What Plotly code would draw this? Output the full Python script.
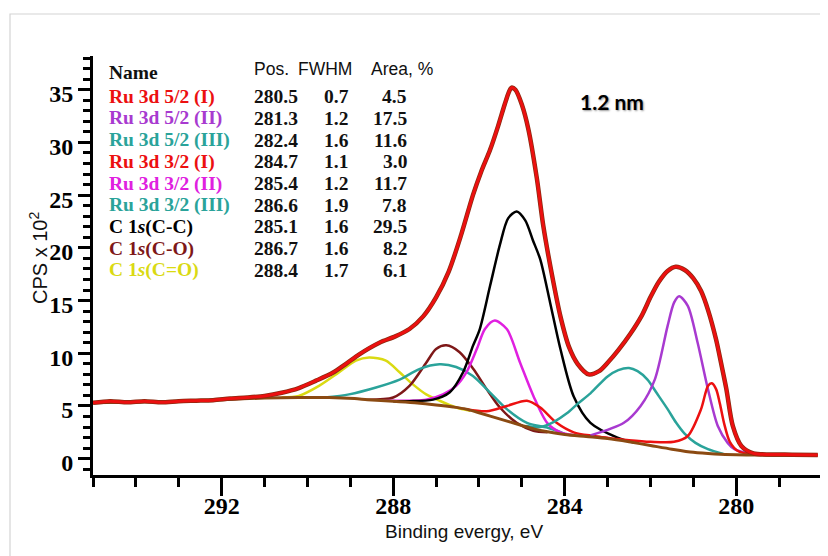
import plotly.graph_objects as go

# ---------------- data ----------------
envelope_E = [295.0, 294.6, 294.2, 293.8, 293.4, 293.0, 292.6, 292.2, 291.8, 291.4, 291.0, 290.6,
              290.2, 289.8, 289.41, 289.1, 288.79, 288.32, 287.95, 287.62, 287.3, 287.0, 286.7,
              286.41, 286.14, 285.95, 285.74, 285.55, 285.4, 285.3, 285.24, 285.15, 285.0, 284.85,
              284.65, 284.5, 284.3, 284.1, 283.9, 283.7, 283.44, 283.2, 283.0, 282.75, 282.46,
              282.2, 281.99, 281.8, 281.6, 281.41, 281.2, 281.0, 280.82, 280.65, 280.47, 280.35,
              280.23, 280.08, 279.88, 279.6, 279.2, 278.7, 278.1]
envelope_cps = [5.3, 5.45, 5.35, 5.45, 5.35, 5.45, 5.5, 5.55, 5.7, 5.8, 5.95, 6.25,
                6.7, 7.4, 8.15, 9.0, 9.9, 11.0, 11.6, 12.3, 13.5, 15.3, 17.8,
                21.3, 25.0, 27.2, 29.3, 31.6, 33.6, 34.8, 35.2, 35.0, 33.6, 31.3,
                26.6, 22.1, 17.5, 13.5, 10.6, 9.0, 8.0, 8.3, 9.1, 10.3, 11.9,
                13.6, 15.4, 16.8, 17.8, 18.2, 17.9, 17.1, 15.9, 14.0, 11.3, 9.0,
                6.6, 3.1, 1.2, 0.5, 0.4, 0.38, 0.35]

background_E = [295.0, 293.0, 292.0, 291.0, 290.2, 289.5, 288.9, 288.6, 288.0, 287.5, 287.0,
                286.6, 286.3, 286.0, 285.5, 285.0, 284.7, 284.4, 284.0, 283.5, 283.0, 282.5,
                282.0, 281.5, 281.0, 280.5, 280.0, 279.0, 278.1]
background_cps = [5.3, 5.45, 5.6, 5.75, 5.8, 5.8, 5.7, 5.6, 5.45, 5.3, 5.1,
                  4.9, 4.7, 4.35, 3.75, 3.15, 2.8, 2.55, 2.3, 2.1, 1.9, 1.6,
                  1.25, 0.9, 0.6, 0.45, 0.37, 0.33, 0.32]

c_co2_E = [290.6, 290.2, 289.73, 289.26, 288.87, 288.56, 288.17, 287.85, 287.54, 287.23,
           286.92, 286.53, 286.2]
c_co2_cps = [5.8, 5.95, 6.9, 8.2, 9.3, 9.6, 9.3, 8.2, 7.05, 6.1, 5.5, 4.85, 4.55]

c_co_E = [288.63, 288.0, 287.62, 287.23, 287.0, 286.76, 286.45, 286.13, 285.82, 285.51,
          285.12, 284.73, 284.4]
c_co_cps = [5.6, 5.8, 6.9, 9.1, 10.4, 10.75, 10.1, 8.5, 6.6, 4.85, 3.4, 2.65, 2.5]

c_cc_E = [288.0, 287.62, 287.07, 286.68, 286.37, 286.14, 285.98, 285.74, 285.51, 285.32, 285.12,
          284.92, 284.74, 284.57, 284.34, 284.1, 283.79, 283.4, 282.77, 282.4]
c_cc_cps = [5.45, 5.45, 5.6, 6.3, 8.2, 10.7, 12.3, 16.4, 20.3, 22.8, 23.45,
            22.6, 20.7, 18.9, 14.8, 10.4, 5.9, 3.4, 2.0, 1.55]

ru32_3_E = [289.6, 289.03, 288.4, 287.85, 287.39, 286.92, 286.53, 286.14, 285.74, 285.35,
            284.88, 284.41, 284.0]
ru32_3_cps = [5.8, 6.1, 6.75, 7.5, 8.5, 8.95, 8.7, 7.85, 6.27, 4.7, 3.4, 2.95, 2.35]

ru32_2_E = [288.25, 287.23, 286.84, 286.53, 286.29, 286.05, 285.86, 285.63, 285.35, 285.04,
            284.73, 284.41, 284.1, 283.8]
ru32_2_cps = [5.5, 5.6, 6.1, 6.9, 8.2, 10.4, 12.3, 13.1, 12.3, 9.1, 5.95, 3.4, 2.5, 2.25]

ru32_1_E = [286.29, 285.82, 285.35, 284.88, 284.57, 284.19, 283.79, 283.32, 283.0]
ru32_1_cps = [4.7, 4.5, 5.0, 5.5, 4.85, 3.4, 2.5, 2.15, 1.95]

ru52_3_E = [284.9, 284.57, 284.25, 283.95, 283.7, 283.4, 283.0, 282.75, 282.5, 282.3, 282.07,
            281.85, 281.6, 281.4, 281.21, 280.95, 280.66, 280.3]
ru52_3_cps = [3.1, 3.0, 3.5, 4.3, 5.2, 6.2, 7.8, 8.4, 8.6, 8.3, 7.5,
              6.2, 4.7, 3.4, 2.4, 1.5, 0.9, 0.45]

ru52_2_E = [283.4, 282.62, 282.23, 281.9, 281.6, 281.45, 281.33, 281.13, 280.9, 280.66,
            280.43, 280.2, 280.04, 279.7]
ru52_2_cps = [2.2, 3.4, 5.0, 7.5, 12.6, 14.8, 15.4, 14.5, 11.0, 6.6, 3.1, 1.5, 0.9, 0.45]

ru52_1_E = [283.3, 282.5, 282.0, 281.45, 281.13, 280.82, 280.66, 280.57, 280.47, 280.38,
            280.28, 280.15, 279.95, 279.6, 278.1]
ru52_1_cps = [2.1, 1.75, 1.6, 1.6, 2.15, 4.7, 6.9, 7.15, 6.6, 5.2, 3.3, 1.6, 0.7, 0.4, 0.35]

# table
names = ["Ru 3d 5/2 (I)", "Ru 3d 5/2 (II)", "Ru 3d 5/2 (III)", "Ru 3d 3/2 (I)",
         "Ru 3d 3/2 (II)", "Ru 3d 3/2 (III)", "C 1<i>s</i>(C-C)", "C 1<i>s</i>(C-O)",
         "C 1<i>s</i>(C=O)"]
positions = ["280.5", "281.3", "282.4", "284.7", "285.4", "286.6", "285.1", "286.7", "288.4"]
fwhm = ["0.7", "1.2", "1.6", "1.1", "1.2", "1.9", "1.6", "1.6", "1.7"]
areas = ["4.5", "17.5", "11.6", "3.0", "11.7", "7.8", "29.5", "8.2", "6.1"]

x_ticks = [292, 288, 284, 280]
y_ticks = [0, 5, 10, 15, 20, 25, 30, 35]

# ---------------- style ----------------
RED = "#ec1010"
PURPLE = "#a83ad0"
TEAL = "#2aa39a"
MAGENTA = "#e020e0"
BLACK = "#000000"
MAROON = "#7e1818"
YELLOW = "#dada12"
BROWN = "#8b4a12"
row_colors = [RED, PURPLE, TEAL, RED, MAGENTA, TEAL, BLACK, MAROON, YELLOW]

W, H = 828, 556
OFF = 8  # page body margin offset
# plot area in page pixels: x 93..822, y 56..475
L = 93 - OFF
T = 56 - OFF
R = W - (822 - OFF)
B = H - (475 - OFF)
PW, PH = W - L - R, H - T - B


def px(x):
    return (x - OFF - L) / PW


def py(y):
    return (H - B - (y - OFF)) / PH


fig = go.Figure()


def add_curve(E, v, color, width):
    fig.add_trace(go.Scatter(x=E, y=v, mode="lines",
                             line=dict(color=color, width=width, shape="spline", smoothing=0.8),
                             hoverinfo="skip", showlegend=False))


add_curve(c_co2_E, c_co2_cps, YELLOW, 2.5)
add_curve(c_co_E, c_co_cps, MAROON, 2.5)
add_curve(ru32_3_E, ru32_3_cps, TEAL, 2.5)
add_curve(ru32_2_E, ru32_2_cps, MAGENTA, 2.5)
add_curve(ru32_1_E, ru32_1_cps, RED, 2.5)
add_curve(c_cc_E, c_cc_cps, BLACK, 2.5)
add_curve(ru52_3_E, ru52_3_cps, TEAL, 2.5)
add_curve(ru52_2_E, ru52_2_cps, PURPLE, 2.5)
add_curve(ru52_1_E, ru52_1_cps, RED, 2.5)
add_curve(background_E, background_cps, BROWN, 3)
add_curve(envelope_E, envelope_cps, "#8a2a10", 4.5)
add_curve(envelope_E, envelope_cps, RED, 3)

tickfont = dict(family="Liberation Serif", size=24, color="black", weight="bold")

fig.update_layout(
    width=W, height=H,
    margin=dict(l=L, r=R, t=T, b=B, pad=0),
    paper_bgcolor="white", plot_bgcolor="white",
    xaxis=dict(range=[295, 278], showgrid=False, zeroline=False, showline=True,
               linecolor="black", linewidth=3, ticks="outside", ticklen=18, tickwidth=3,
               tickcolor="black", tickvals=x_ticks, ticktext=[str(t) for t in x_ticks],
               tickfont=tickfont, ticklabelstandoff=-11,
               minor=dict(dtick=1, tick0=0, ticks="outside", ticklen=9, tickwidth=2.5,
                          tickcolor="black")),
    yaxis=dict(range=[-1.55, 38.2], showgrid=False, zeroline=False, showline=True,
               linecolor="black", linewidth=3, ticks="outside", ticklen=12, tickwidth=3,
               tickcolor="black", tickvals=y_ticks, ticktext=[str(t) for t in y_ticks],
               tickfont=tickfont, ticklabelshift=4,
               minor=dict(dtick=1, tick0=0, ticks="outside", ticklen=7, tickwidth=2.5,
                          tickcolor="black")),
)

# outer light frame
fig.add_shape(type="rect", xref="paper", yref="paper",
              x0=px(10), x1=px(850), y0=py(580), y1=py(14),
              line=dict(color="#d4d4d4", width=1.2), fillcolor="rgba(0,0,0,0)", layer="below")

ann = []
# axis titles
ann.append(dict(text="Binding evergy, eV", x=px(464), y=py(531), xref="paper", yref="paper",
                showarrow=False, xanchor="center", yanchor="middle",
                font=dict(family="Liberation Sans", size=19, color="#111")))
ann.append(dict(text="CPS x 10<sup>2</sup>", x=px(38), y=py(258), xref="paper", yref="paper",
                showarrow=False, xanchor="center", yanchor="middle", textangle=-90,
                font=dict(family="Liberation Sans", size=20, color="#111")))

# table header
serif_b = dict(family="Liberation Serif", size=19.5, weight="bold")
ann.append(dict(text="Name", x=px(107), y=py(73), xref="paper", yref="paper", showarrow=False,
                xanchor="left", yanchor="middle", font=dict(serif_b, color="#111")))
for label, xl in [("Pos.", 252), ("FWHM", 296), ("Area, %", 369)]:
    ann.append(dict(text=label, x=px(xl), y=py(69.5), xref="paper", yref="paper",
                    showarrow=False, xanchor="left", yanchor="middle",
                    font=dict(family="Liberation Sans", size=17.5, color="#111")))

for i in range(len(names)):
    yc = 96.7 + 21.7 * i
    ann.append(dict(text=names[i], x=px(107), y=py(yc), xref="paper", yref="paper",
                    showarrow=False, xanchor="left", yanchor="middle",
                    font=dict(serif_b, color=row_colors[i])))
    ann.append(dict(text=positions[i], x=px(275.5), y=py(yc), xref="paper", yref="paper",
                    showarrow=False, xanchor="center", yanchor="middle",
                    font=dict(serif_b, color="#111")))
    ann.append(dict(text=fwhm[i], x=px(336), y=py(yc), xref="paper", yref="paper",
                    showarrow=False, xanchor="center", yanchor="middle",
                    font=dict(serif_b, color="#111")))
    ann.append(dict(text=areas[i], x=px(409), y=py(yc), xref="paper", yref="paper",
                    showarrow=False, xanchor="right", yanchor="middle",
                    font=dict(serif_b, color="#111")))

# sample label
ann.append(dict(text="1.2 nm", x=px(578), y=py(102), xref="paper", yref="paper",
                showarrow=False, xanchor="left", yanchor="middle",
                font=dict(family="Lato", size=21, weight="bold", color="black",
                          shadow="1px 1px 2px #999")))

fig.update_layout(annotations=ann)
fig.write_html("out.html")
